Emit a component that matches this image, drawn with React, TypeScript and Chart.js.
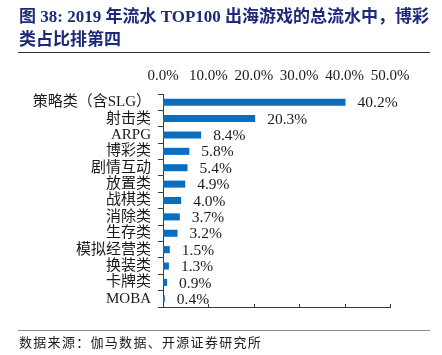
import React, { useEffect, useRef } from 'react';
import { Chart, registerables } from 'chart.js';

Chart.register(...registerables);

const categories = [
  '策略类（含SLG）',
  '射击类',
  'ARPG',
  '博彩类',
  '剧情互动',
  '放置类',
  '战棋类',
  '消除类',
  '生存类',
  '模拟经营类',
  '换装类',
  '卡牌类',
  'MOBA',
];
const shares = [40.2, 20.3, 8.4, 5.8, 5.4, 4.9, 4.0, 3.7, 3.2, 1.5, 1.3, 0.9, 0.4];
const axisMin = 0;
const axisMax = 50;
const axisStep = 10;

const titleLine1 = '图 38: 2019 年流水 TOP100 出海游戏的总流水中，博彩';
const titleLine2 = '类占比排第四';
const sourceText = '数据来源：伽马数据、开源证券研究所';

const FONT = "'Liberation Serif', 'Times New Roman', 'Noto Sans CJK SC', serif";
const TEXT = '#1a1a1a';
const AXIS = '#3a3a3a';
const BAR = '#0a6ebf';

export default function App() {
  const ref = useRef<HTMLCanvasElement>(null);

  useEffect(() => {
    document.body.style.margin = '0';
    const valueLabels = {
      id: 'valueLabels',
      afterDatasetsDraw(chart: any) {
        const ctx = chart.ctx;
        const meta = chart.getDatasetMeta(0);
        ctx.save();
        ctx.font = `15.5px ${FONT}`;
        ctx.fillStyle = TEXT;
        ctx.textAlign = 'left';
        ctx.textBaseline = 'middle';
        meta.data.forEach((bar: any, i: number) => {
          ctx.fillText(shares[i].toFixed(1) + '%', bar.x + 12, bar.y + 1);
        });
        ctx.restore();
      },
    };
    const innerTicks = {
      id: 'innerTicks',
      afterDraw(chart: any) {
        const sx = chart.scales.x;
        const ctx = chart.ctx;
        const bottom = chart.chartArea.bottom;
        ctx.save();
        ctx.strokeStyle = AXIS;
        ctx.lineWidth = 1;
        for (let v = axisMin + axisStep; v <= axisMax; v += axisStep) {
          const px = Math.round(sx.getPixelForValue(v)) + 0.5;
          ctx.beginPath();
          ctx.moveTo(px, bottom);
          ctx.lineTo(px, bottom - 3);
          ctx.stroke();
        }
        ctx.restore();
      },
    };
    const chart = new Chart(ref.current as HTMLCanvasElement, {
      type: 'bar',
      data: {
        labels: categories,
        datasets: [
          {
            data: shares,
            backgroundColor: BAR,
            categoryPercentage: 1,
            barPercentage: 0.43,
          },
        ],
      },
      options: {
        animation: false,
        responsive: false,
        indexAxis: 'y',
        layout: { padding: { left: 0, top: 0, right: 52, bottom: 47 } },
        plugins: { legend: { display: false }, tooltip: { enabled: false } },
        scales: {
          x: {
            position: 'bottom',
            min: axisMin,
            max: axisMax,
            ticks: { display: false, stepSize: axisStep },
            grid: { display: false },
            border: { display: true, color: AXIS },
            afterFit(s: any) {
              s.height = 1;
            },
          },
          x2: {
            axis: 'x',
            type: 'linear',
            position: 'top',
            min: axisMin,
            max: axisMax,
            ticks: {
              stepSize: axisStep,
              padding: 9,
              color: TEXT,
              font: { size: 15, family: FONT },
              callback: (v: any) => Number(v).toFixed(1) + '%',
            },
            grid: { display: false, drawTicks: false },
            border: { display: false },
            afterFit(s: any) {
              s.height = 94;
            },
          },
          y: {
            ticks: {
              color: TEXT,
              font: { size: 15, family: FONT },
              padding: 7,
              autoSkip: false,
            },
            grid: { drawOnChartArea: false, tickLength: 5, color: AXIS, offset: true },
            border: { color: AXIS },
            afterFit(s: any) {
              s.width = 163;
            },
          },
        },
      },
      plugins: [valueLabels, innerTicks],
    } as any);
    return () => chart.destroy();
  }, []);

  return (
    <div style={{ position: 'relative', width: 442, height: 355, background: '#fff', overflow: 'hidden' }}>
      <canvas
        ref={ref}
        width={442}
        height={355}
        style={{ position: 'absolute', left: 0, top: 0, display: 'block' }}
      />
      <div
        style={{
          position: 'absolute',
          left: 19,
          top: 5,
          fontFamily: "'Liberation Serif', 'Noto Sans CJK SC', serif",
          fontWeight: 'bold',
          fontSize: 17,
          lineHeight: '23px',
          color: '#1d2a7a',
          whiteSpace: 'nowrap',
        }}
      >
        {titleLine1}
        <br />
        {titleLine2}
      </div>
      <div style={{ position: 'absolute', left: 18, top: 52, width: 412, height: 0, borderTop: '1.5px solid #333' }} />
      <div style={{ position: 'absolute', left: 18, top: 330, width: 412, height: 0, borderTop: '1.5px solid #8a8a8a' }} />
      <div
        style={{
          position: 'absolute',
          left: 19,
          top: 333,
          fontFamily: "'Noto Sans CJK SC', sans-serif",
          fontSize: 13,
          lineHeight: '18px',
          letterSpacing: '1.3px',
          color: TEXT,
          whiteSpace: 'nowrap',
        }}
      >
        {sourceText}
      </div>
    </div>
  );
}
